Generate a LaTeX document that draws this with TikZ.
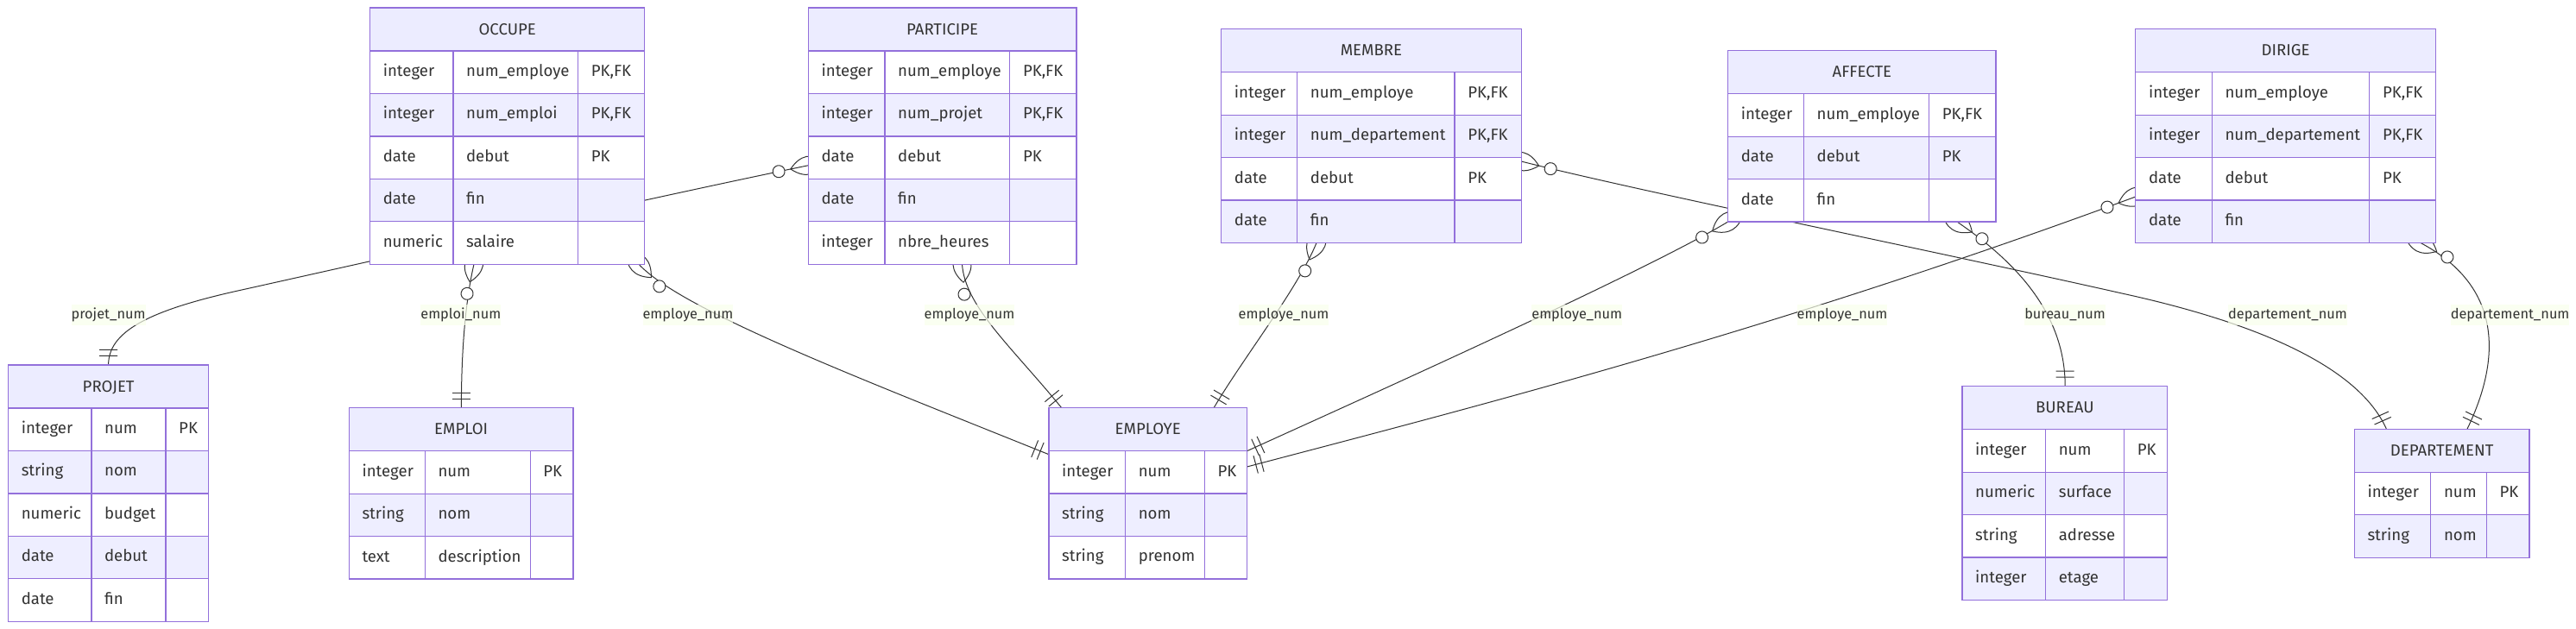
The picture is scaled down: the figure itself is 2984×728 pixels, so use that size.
\documentclass[tikz,border=0pt]{standalone}
\usepackage{fontspec}
\setmainfont{Fira Sans}
\usetikzlibrary{calc,decorations.markings}
\pgfdeclarelayer{bg}
\pgfsetlayers{bg,main}
\definecolor{ebord}{HTML}{9370DB}
\definecolor{ehead}{HTML}{ECECFF}
\definecolor{erowc}{HTML}{EEEEFF}
\definecolor{etext}{HTML}{333333}
\definecolor{eline}{HTML}{333333}
\definecolor{lblbg}{HTML}{F9FFEC}

\newcommand{\entity}[8]{%
  \pgfmathsetmacro{\ew}{#4+#5+#6}%
  \pgfmathsetmacro{\eh}{50+#7*49.45}%
  \def\en{#1}\def\ex{#2}\def\ey{#3}\def\wa{#4}\def\wb{#5}\def\wc{#6}%
  \node[entbox,minimum width=\ew pt,minimum height=\eh pt,anchor=north west] (#1) at (#2,#3) {};
  \draw[cellline,fill=ehead] (#2,#3) rectangle ++(\ew,50);
  \node[titletext] (#1-title) at (#2+\ew/2,#3+31) {#8};
}
\newcommand{\erow}[4]{%
  \pgfmathsetmacro{\ry}{\ey+50+(#1-1)*49.45}%
  \pgfmathtruncatemacro{\rpar}{mod(#1,2)}%
  \ifnum\rpar=0 \def\rfill{erowc}\else\def\rfill{white}\fi
  \draw[cellline,fill=\rfill] (\ex,\ry) rectangle ++(\wa,49.45);
  \draw[cellline,fill=\rfill] (\ex+\wa,\ry) rectangle ++(\wb,49.45);
  \draw[cellline,fill=\rfill] (\ex+\wa+\wb,\ry) rectangle ++(\wc,49.45);
  \node[celltext] (\en-#1-type) at (\ex+15,\ry+29.5) {#2};
  \node[celltext] (\en-#1-name) at (\ex+\wa+15,\ry+29.5) {#3};
  \node[celltext] (\en-#1-key) at (\ex+\wa+\wb+15,\ry+29.5) {#4};
}

\begin{document}
\begin{tikzpicture}[x=1pt,y=-1pt,
  entbox/.style={draw=none,fill=none,inner sep=0pt,outer sep=0pt},
  cellline/.style={draw=ebord,line width=1.3pt},
  celltext/.style={anchor=base west,inner sep=0pt,text=etext,font=\fontsize{18.6}{22}\selectfont},
  titletext/.style={anchor=base,inner sep=0pt,text=etext,font=\fontsize{18.6}{22}\selectfont},
  lbl/.style={anchor=base,fill=lblbg,fill opacity=0.7,text opacity=1,inner xsep=0pt,inner ysep=3.75pt,text height=12.5pt,text depth=4pt,text=etext,font=\fontsize{16.3}{20}\selectfont},
  edge/.style={draw=eline,line width=1pt},
  crow/.style={postaction={decorate,decoration={markings,mark=at position 0 with {
     \draw[edge] (-21,0) .. controls (-7,-14) and (7,-14) .. (21,0) .. controls (7,14) and (-7,14) .. (-21,0);
     \draw[edge,fill=white] (35,0) circle[radius=7pt];}}}},
  one/.style={postaction={decorate,decoration={markings,mark=at position 0.99999 with {
     \draw[edge] (-10.5,-10.5) -- (-10.5,10.5) (-17.5,-10.5) -- (-17.5,10.5);}}}}
]
\useasboundingbox (0,0) rectangle (2984,728);

\entity{OCCUPE}{428.6}{9}{96.3}{144.7}{77.2}{5}{OCCUPE}
\erow{1}{integer}{num\_employe}{PK,FK}
\erow{2}{integer}{num\_emploi}{PK,FK}
\erow{3}{date}{debut}{PK}
\erow{4}{date}{fin}{}
\erow{5}{numeric}{salaire}{}

\entity{PARTICIPE}{936.4}{9}{88.6}{144.8}{77.1}{5}{PARTICIPE}
\erow{1}{integer}{num\_employe}{PK,FK}
\erow{2}{integer}{num\_projet}{PK,FK}
\erow{3}{date}{debut}{PK}
\erow{4}{date}{fin}{}
\erow{5}{integer}{nbre\_heures}{}

\entity{MEMBRE}{1414.7}{33.7}{88}{182.4}{77.1}{4}{MEMBRE}
\erow{1}{integer}{num\_employe}{PK,FK}
\erow{2}{integer}{num\_departement}{PK,FK}
\erow{3}{date}{debut}{PK}
\erow{4}{date}{fin}{}

\entity{AFFECTE}{2001.6}{58.7}{87.8}{145.2}{77.4}{3}{AFFECTE}
\erow{1}{integer}{num\_employe}{PK,FK}
\erow{2}{date}{debut}{PK}
\erow{3}{date}{fin}{}

\entity{DIRIGE}{2473.8}{33.7}{88.5}{182.5}{76.7}{4}{DIRIGE}
\erow{1}{integer}{num\_employe}{PK,FK}
\erow{2}{integer}{num\_departement}{PK,FK}
\erow{3}{date}{debut}{PK}
\erow{4}{date}{fin}{}

\entity{PROJET}{9.6}{423}{96.3}{86.1}{49.7}{5}{PROJET}
\erow{1}{integer}{num}{PK}
\erow{2}{string}{nom}{}
\erow{3}{numeric}{budget}{}
\erow{4}{date}{debut}{}
\erow{5}{date}{fin}{}

\entity{EMPLOI}{404.3}{472.7}{88}{121.9}{49.7}{3}{EMPLOI}
\erow{1}{integer}{num}{PK}
\erow{2}{string}{nom}{}
\erow{3}{text}{description}{}

\entity{EMPLOYE}{1214.9}{472.5}{88.7}{91.8}{49.1}{3}{EMPLOYE}
\erow{1}{integer}{num}{PK}
\erow{2}{string}{nom}{}
\erow{3}{string}{prenom}{}

\entity{BUREAU}{2273}{447.7}{96.6}{91}{50.2}{4}{BUREAU}
\erow{1}{integer}{num}{PK}
\erow{2}{numeric}{surface}{}
\erow{3}{string}{adresse}{}
\erow{4}{integer}{etage}{}

\entity{DEPARTEMENT}{2727.3}{497.3}{88.5}{64.6}{49.6}{2}{DEPARTEMENT}
\erow{1}{integer}{num}{PK}
\erow{2}{string}{nom}{}

\begin{pgfonlayer}{bg}
\fill[white] (0,0) rectangle (2984,728);
\draw[edge,crow,one] ($(PARTICIPE.north west)+(0,182.7)$) .. controls (760,228) and (500,287) .. (280,336) .. controls (170,360) and (125.6,385) .. ($(PROJET.north west)+(116,0)$);
\draw[edge,crow,one] ($(OCCUPE.south west)+(120.4,0)$) .. controls (540,345) and (534.4,400) .. ($(EMPLOI.north west)+(130.1,0)$);
\draw[edge,crow,one] ($(OCCUPE.south west)+(311.4,0)$) .. controls (790,360) and (1000,440) .. ($(EMPLOYE.north west)+(0,54.2)$);
\draw[edge,crow,one] ($(PARTICIPE.south west)+(178.1,0)$) .. controls (1118,355) and (1170,400) .. ($(EMPLOYE.north west)+(14.7,0)$);
\draw[edge,crow,one] ($(MEMBRE.south west)+(110.3,0)$) .. controls (1503,335) and (1440,415) .. ($(EMPLOYE.north west)+(191.3,0)$);
\draw[edge,crow,one] (AFFECTE.south west) .. controls (1900,318) and (1560,470) .. ($(EMPLOYE.north west)+(229.6,50.2)$);
\draw[edge,crow,one] ($(DIRIGE.north west)+(0,194.3)$) .. controls (2050,384.7) and (1700,473.7) .. ($(EMPLOYE.north west)+(229.6,68.5)$);
\draw[edge,crow,one] ($(AFFECTE.south west)+(265.4,0)$) .. controls (2330,300) and (2392.2,360) .. ($(BUREAU.north west)+(119.2,0)$);
\draw[edge,crow,one] ($(MEMBRE.north west)+(347.5,153.3)$) .. controls (1900,222) and (2250,293) .. (2458,340) .. controls (2600,371) and (2730,420) .. ($(DEPARTEMENT.north west)+(37.1,0)$);
\draw[edge,crow,one] ($(DIRIGE.south west)+(330.2,0)$) .. controls (2895,330) and (2900,410) .. ($(DEPARTEMENT.north west)+(130.6,0)$);
\end{pgfonlayer}

\node[lbl] (l1) at (125.6,369) {projet\_num};
\node[lbl] (l2) at (533.8,369) {emploi\_num};
\node[lbl] (l3) at (796.9,369) {employe\_num};
\node[lbl] (l4) at (1123,369) {employe\_num};
\node[lbl] (l5) at (1487,369) {employe\_num};
\node[lbl] (l6) at (1826.7,369) {employe\_num};
\node[lbl] (l7) at (2134,369) {employe\_num};
\node[lbl] (l8) at (2392,369) {bureau\_num};
\node[lbl] (l9) at (2650,369) {departement\_num};
\node[lbl] (l10) at (2907.6,369) {departement\_num};
\end{tikzpicture}
\end{document}
